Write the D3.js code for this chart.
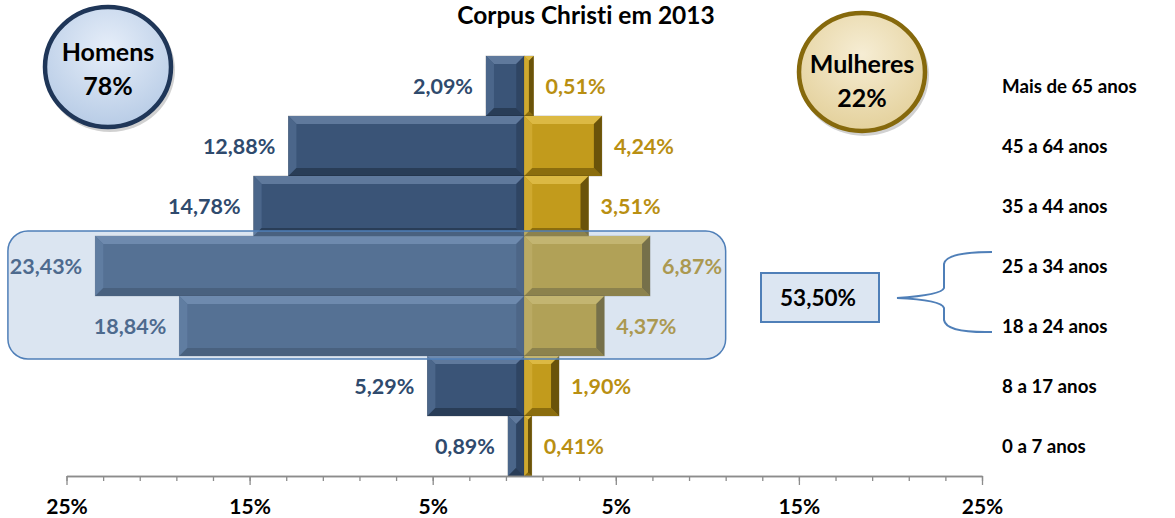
<!DOCTYPE html>
<html>
<head>
<meta charset="utf-8">
<script src="https://cdn.jsdelivr.net/npm/d3@7"></script>
<style>
  body { margin: 0; background: #fff; }
  svg { display: block; font-family: Lato, 'Open Sans', sans-serif; font-weight: bold; font-variant-ligatures: none; }
  .axis path, .axis line { stroke: #8c8c8c; stroke-width: 1.3; }
  .axis text { fill: #000; font-size: 21px; font-weight: bold; font-family: Lato, sans-serif; }
</style>
</head>
<body>
<script>
// data
const ageGroups = ['Mais de 65 anos', '45 a 64 anos', '35 a 44 anos', '25 a 34 anos', '18 a 24 anos', '8 a 17 anos', '0 a 7 anos']
const homens = [2.09, 12.88, 14.78, 23.43, 18.84, 5.29, 0.89]
const mulheres = [0.51, 4.24, 3.51, 6.87, 4.37, 1.90, 0.41]
const majorTicks = [-25, -15, -5, 5, 15, 25]
const minorTicks = d3.range(-25, 26, 2)
const highlighted = ['25 a 34 anos', '18 a 24 anos']
const highlightTotal = '53,50%'
const totals = [{ name: 'Homens', value: '78%' }, { name: 'Mulheres', value: '22%' }]
const title = 'Corpus Christi em 2013'

const fmt = v => d3.format('.2f')(v).replace('.', ',') + '%'

const width = 1175, height = 518
const svg = d3.select('body').append('svg')
    .attr('width', width)
    .attr('height', height)

const x = d3.scaleLinear().domain([-25, 25]).range([66.5, 982])
const y = d3.scaleBand().domain(ageGroups).range([56, 476])

const defs = svg.append('defs')
const gradBlue = defs.append('radialGradient').attr('id', 'gBlue')
    .attr('cx', '50%').attr('cy', '35%').attr('r', '65%')
gradBlue.append('stop').attr('offset', '0%').attr('stop-color', '#e6eef9')
gradBlue.append('stop').attr('offset', '100%').attr('stop-color', '#b8cce6')
const gradGold = defs.append('radialGradient').attr('id', 'gGold')
    .attr('cx', '50%').attr('cy', '35%').attr('r', '65%')
gradGold.append('stop').attr('offset', '0%').attr('stop-color', '#f6edd4')
gradGold.append('stop').attr('offset', '100%').attr('stop-color', '#e4d19c')

const palette = {
  blue: { base: '#3a5477', top: '#5f799c', left: '#4b668a', bottom: '#293d57', right: '#2f4563', label: '#2f4a6d' },
  gold: { base: '#c29b1c', top: '#dcb943', left: '#cfa92f', bottom: '#8b6d0e', right: '#6a530a', label: '#b98f12' }
}

// bar with a bevelled edge
function bevelBar(g, x0, y0, w, h, c) {
  const b = Math.min(8, w / 2, h / 2)
  const x1 = x0 + w, y1 = y0 + h
  g.append('rect').attr('x', x0).attr('y', y0).attr('width', w).attr('height', h)
      .attr('fill', c.base).attr('stroke', 'rgba(0,0,0,0.25)').attr('stroke-width', 0.8)
  const polys = [
    [[x0, y0], [x1, y0], [x1 - b, y0 + b], [x0 + b, y0 + b], c.top],
    [[x0, y0], [x0 + b, y0 + b], [x0 + b, y1 - b], [x0, y1], c.left],
    [[x0, y1], [x0 + b, y1 - b], [x1 - b, y1 - b], [x1, y1], c.bottom],
    [[x1, y0], [x1, y1], [x1 - b, y1 - b], [x1 - b, y0 + b], c.right]
  ]
  polys.forEach(p => {
    g.append('polygon').attr('points', p.slice(0, 4).map(q => q.join(',')).join(' ')).attr('fill', p[4])
  })
}

const rows = svg.append('g').attr('class', 'rows')
    .selectAll('g')
    .data(ageGroups.map((a, i) => ({ age: a, h: homens[i], m: mulheres[i] })))
    .enter().append('g')
      .attr('class', 'row')

rows.each(function(d) {
  const g = d3.select(this)
  const y0 = y(d.age), bh = y.bandwidth()
  bevelBar(g, x(-d.h), y0, x(0) - x(-d.h), bh, palette.blue)
  bevelBar(g, x(0), y0, x(d.m) - x(0), bh, palette.gold)
  g.append('text')
      .attr('x', x(-d.h) - 13)
      .attr('y', y0 + bh / 2 + 8)
      .attr('text-anchor', 'end')
      .attr('font-size', 21.5)
      .attr('fill', palette.blue.label)
      .text(fmt(d.h))
  g.append('text')
      .attr('x', x(d.m) + 12)
      .attr('y', y0 + bh / 2 + 8)
      .attr('font-size', 21.5)
      .attr('fill', palette.gold.label)
      .text(fmt(d.m))
})

// highlight box over the two young adult groups
const hTop = y(highlighted[0]) - 5
const hBot = y(highlighted[1]) + y.bandwidth() + 3
svg.append('rect')
    .attr('x', x(-28.2)).attr('y', hTop)
    .attr('width', x(11) - x(-28.2)).attr('height', hBot - hTop)
    .attr('rx', 20).attr('ry', 20)
    .attr('fill', '#8eaed5').attr('fill-opacity', 0.32)
    .attr('stroke', '#4f7fb8').attr('stroke-width', 1.5)

// row above sits in front of the box
rows.filter((d, i) => i === ageGroups.indexOf(highlighted[0]) - 1).raise()

// total box and brace
const midY = (y(highlighted[0]) + y(highlighted[1]) + y.bandwidth()) / 2
svg.append('rect')
    .attr('x', 761).attr('y', midY - 23)
    .attr('width', 118).attr('height', 49)
    .attr('fill', '#dce6f2').attr('stroke', '#4f7fb8').attr('stroke-width', 2)
svg.append('text')
    .attr('x', 818).attr('y', midY + 10)
    .attr('text-anchor', 'middle')
    .attr('font-size', 22.5)
    .attr('fill', '#000')
    .text(highlightTotal)

const bTop = y(highlighted[0]) + y.bandwidth() / 2 - 14
const bBot = y(highlighted[1]) + y.bandwidth() / 2 + 6
svg.append('path')
    .attr('d', 'M992,' + bTop + ' Q946,' + bTop + ' 944,' + (bTop + 12) +
      ' L944,' + (midY - 8) + ' Q942,' + (midY - 1) + ' 897,' + (midY + 2) +
      ' Q942,' + (midY + 4) + ' 944,' + (midY + 12) +
      ' L944,' + (bBot - 12) + ' Q946,' + (bBot + 1) + ' 992,' + bBot)
    .attr('fill', 'none')
    .attr('stroke', '#4f7fb8')
    .attr('stroke-width', 2)

// age labels on the right
svg.append('g').selectAll('text')
    .data(ageGroups)
    .enter().append('text')
      .attr('x', 1002)
      .attr('y', d => y(d) + y.bandwidth() / 2 + 7)
      .attr('font-size', 18.7)
      .attr('fill', '#000')
      .text(d => d)

// axis
svg.append('g')
    .attr('class', 'axis')
    .attr('transform', 'translate(0,476)')
    .call(d3.axisBottom(x).tickValues(minorTicks).tickSize(5).tickSizeOuter(0).tickFormat(''))
svg.append('g')
    .attr('class', 'axis')
    .attr('transform', 'translate(0,476)')
    .call(d3.axisBottom(x).tickValues(majorTicks).tickSize(9).tickSizeOuter(0).tickPadding(14)
      .tickFormat(d => Math.abs(d) + '%'))

// title, close to the top edge
svg.append('text')
    .attr('x', 586).attr('y', 24)
    .attr('text-anchor', 'middle')
    .attr('font-size', 24.5)
    .attr('fill', '#000')
    .text(title)

// total bubbles
const bubbles = [
  { cx: 108, cy: 67, rx: 63, ry: 60, ty: 0, fill: 'url(#gBlue)', stroke: '#1f3658' },
  { cx: 862, cy: 72, rx: 63, ry: 59, ty: 7, fill: 'url(#gGold)', stroke: '#86690c' }
]
bubbles.forEach((b, i) => {
  svg.append('ellipse')
      .attr('cx', b.cx + 2).attr('cy', b.cy + 3).attr('rx', b.rx + 2).attr('ry', b.ry + 2)
      .attr('fill', 'rgba(0,0,0,0.18)')
  svg.append('ellipse')
      .attr('cx', b.cx).attr('cy', b.cy).attr('rx', b.rx).attr('ry', b.ry)
      .attr('fill', b.fill).attr('stroke', b.stroke).attr('stroke-width', 4.5)
  svg.append('text')
      .attr('x', b.cx).attr('y', b.cy - 6 + b.ty)
      .attr('text-anchor', 'middle')
      .attr('font-size', 25)
      .attr('fill', '#000')
      .text(totals[i].name)
  svg.append('text')
      .attr('x', b.cx).attr('y', b.cy + 28 + b.ty)
      .attr('text-anchor', 'middle')
      .attr('font-size', 25)
      .attr('fill', '#000')
      .text(totals[i].value)
})
</script>
</body>
</html>
